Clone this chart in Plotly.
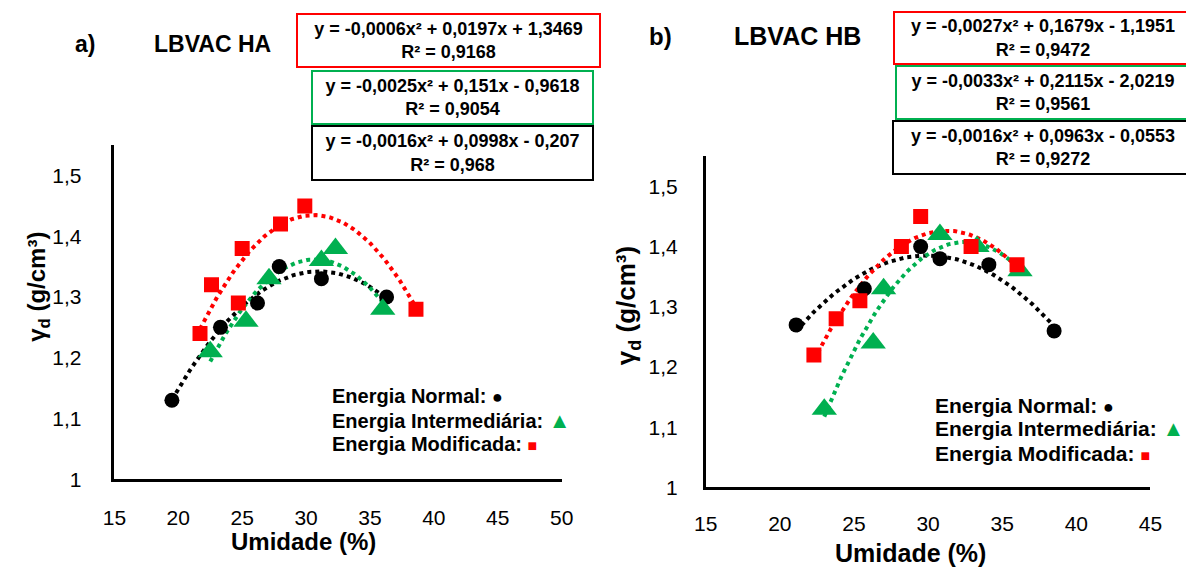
import numpy as np
import plotly.graph_objects as go

# ---------------- data ----------------
# Panel a) LBVAC HA
ha_normal_x = [19.5, 23.3, 26.2, 27.9, 31.2, 36.3]
ha_normal_y = [1.13, 1.25, 1.29, 1.35, 1.33, 1.30]
ha_inter_x = [22.5, 25.3, 27.1, 31.2, 32.3, 36.0]
ha_inter_y = [1.21, 1.26, 1.33, 1.36, 1.38, 1.28]
ha_mod_x = [21.7, 22.6, 24.7, 25.0, 28.0, 29.9, 38.6]
ha_mod_y = [1.24, 1.32, 1.29, 1.38, 1.42, 1.45, 1.28]

# Panel b) LBVAC HB
hb_normal_x = [21.1, 25.7, 29.5, 30.8, 34.1, 38.5]
hb_normal_y = [1.27, 1.33, 1.40, 1.38, 1.37, 1.26]
hb_inter_x = [23.0, 26.3, 27.0, 30.8, 33.3, 36.2]
hb_inter_y = [1.13, 1.24, 1.33, 1.42, 1.40, 1.36]
hb_mod_x = [22.3, 23.8, 25.4, 28.2, 29.5, 32.9, 36.0]
hb_mod_y = [1.22, 1.28, 1.31, 1.40, 1.45, 1.40, 1.37]

ha_equations = [
    "y = -0,0006x² + 0,0197x + 1,3469<br>R² = 0,9168",
    "y = -0,0025x² + 0,151x - 0,9618<br>R² = 0,9054",
    "y = -0,0016x² + 0,0998x - 0,207<br>R² = 0,968",
]
hb_equations = [
    "y = -0,0027x² + 0,1679x - 1,1951<br>R² = 0,9472",
    "y = -0,0033x² + 0,2115x - 2,0219<br>R² = 0,9561",
    "y = -0,0016x² + 0,0963x - 0,0553<br>R² = 0,9272",
]
legend_labels = ["Energia Normal:", "Energia Intermediária:", "Energia Modificada:"]
panel_letters = ["a)", "b)"]
panel_titles = ["LBVAC HA", "LBVAC HB"]
x_title = "Umidade (%)"
y_title = "γ<sub>d</sub> (g/cm³)"

# ---------------- styling ----------------
W, H = 1186, 575
FONT = "Liberation Sans, Arial, sans-serif"
BLACK, GREEN, RED = "#000000", "#00B050", "#FF0000"


def fx(p):
    return p / W


def fy(p):
    return 1 - p / H


fig = go.Figure()

series = [
    # (x, y, color, symbol, size, xaxis, yaxis)
    (ha_normal_x, ha_normal_y, BLACK, "circle", 15, "x", "y"),
    (ha_inter_x, ha_inter_y, GREEN, "triangle-up", 22, "x", "y"),
    (ha_mod_x, ha_mod_y, RED, "square", 15, "x", "y"),
    (hb_normal_x, hb_normal_y, BLACK, "circle", 15, "x2", "y2"),
    (hb_inter_x, hb_inter_y, GREEN, "triangle-up", 22, "x2", "y2"),
    (hb_mod_x, hb_mod_y, RED, "square", 15, "x2", "y2"),
]

# trendlines (2nd-order polynomial fits of each series)
for x, y, c, sym, sz, xa, ya in series:
    coef = np.polyfit(x, y, 2)
    xs = np.linspace(min(x), max(x), 120)
    fig.add_trace(go.Scatter(
        x=xs, y=np.polyval(coef, xs), mode="lines",
        line=dict(color=c, width=4, dash="4px,4px"),
        xaxis=xa, yaxis=ya, showlegend=False, hoverinfo="skip"))

for x, y, c, sym, sz, xa, ya in series:
    fig.add_trace(go.Scatter(
        x=x, y=y, mode="markers",
        marker=dict(color=c, symbol=sym, size=sz, line=dict(width=0)),
        xaxis=xa, yaxis=ya, showlegend=False))

axis_common = dict(showline=True, linewidth=2.5, linecolor="black", showgrid=False,
                   zeroline=False, ticks="", fixedrange=True)

fig.update_layout(
    width=W, height=H,
    margin=dict(l=0, r=0, t=0, b=0),
    paper_bgcolor="white", plot_bgcolor="white",
    separators=", ",
    font=dict(family=FONT, color="black"),
    showlegend=False,
    xaxis=dict(domain=[fx(104.5), fx(561)], range=[15, 50], tick0=15, dtick=5,
               anchor="y", tickfont=dict(size=21), ticklabelstandoff=18, **axis_common),
    yaxis=dict(domain=[fy(488.5), fy(148)], range=[1, 1.55], tick0=1, dtick=0.1,
               anchor="x", tickfont=dict(size=21), ticklabelstandoff=26, **axis_common),
    xaxis2=dict(domain=[fx(708), fx(1162)], range=[15, 45], tick0=15, dtick=5,
                anchor="y2", tickfont=dict(size=21), ticklabelstandoff=16, **axis_common),
    yaxis2=dict(domain=[fy(497), fy(159.3)], range=[1, 1.55], tick0=1, dtick=0.1,
                anchor="x2", tickfont=dict(size=21), ticklabelstandoff=21, **axis_common),
)

ann = []


def text(x, y, t, size, xanchor="center", angle=0, bold=True):
    ann.append(dict(xref="paper", yref="paper", x=fx(x), y=fy(y), text=t,
                    showarrow=False, xanchor=xanchor, yanchor="middle",
                    textangle=angle,
                    font=dict(family=FONT, size=size, color="black",
                              weight="bold" if bold else "normal")))


# panel letters and titles
text(75, 45, panel_letters[0], 23)
text(205, 45, panel_titles[0], 23)
text(662, 37, panel_letters[1], 24)
text(802, 37, panel_titles[1], 25)

# axis titles
text(298, 552, x_title, 24)
text(917, 564, x_title, 25)
text(27, 292, y_title, 24, angle=-90)
text(628, 312, y_title, 26, angle=-90)

# equation boxes: (center x, center y, width, height)
boxes_a = [(446, 41.5, 303, 53), (450, 99.5, 281, 53), (450, 156, 281, 54)]
boxes_b = [(1052, 39, 298, 52), (1052, 94.5, 294, 53), (1052, 150.5, 300, 53)]
colors = [RED, GREEN, BLACK]
for eqs, boxes in ((ha_equations, boxes_a), (hb_equations, boxes_b)):
    for eq, (cx, cy, bw, bh), col in zip(eqs, boxes, colors):
        ann.append(dict(xref="paper", yref="paper", x=fx(cx), y=fy(cy), text=eq,
                        showarrow=False, xanchor="center", yanchor="middle",
                        width=bw - 4, height=bh - 4, align="center",
                        bordercolor=col, borderwidth=2, borderpad=1, bgcolor="white",
                        font=dict(family=FONT, size=18, color="black", weight="bold")))

# in-plot legends
symbols = [
    f"<span style='color:{BLACK};font-size:18px'>●</span>",
    f"<span style='color:{GREEN};font-size:22px'>▲</span>",
    f"<span style='color:{RED};font-size:16px'>■</span>",
]
for (x0, ys, fs) in ((325, (404, 429, 453), 20), (940, (413, 437, 462), 21)):
    for lab, sym, yy in zip(legend_labels, symbols, ys):
        text(x0, yy, lab + " " + sym, fs, xanchor="left")

fig.update_layout(annotations=ann)
fig.write_html("out.html")
